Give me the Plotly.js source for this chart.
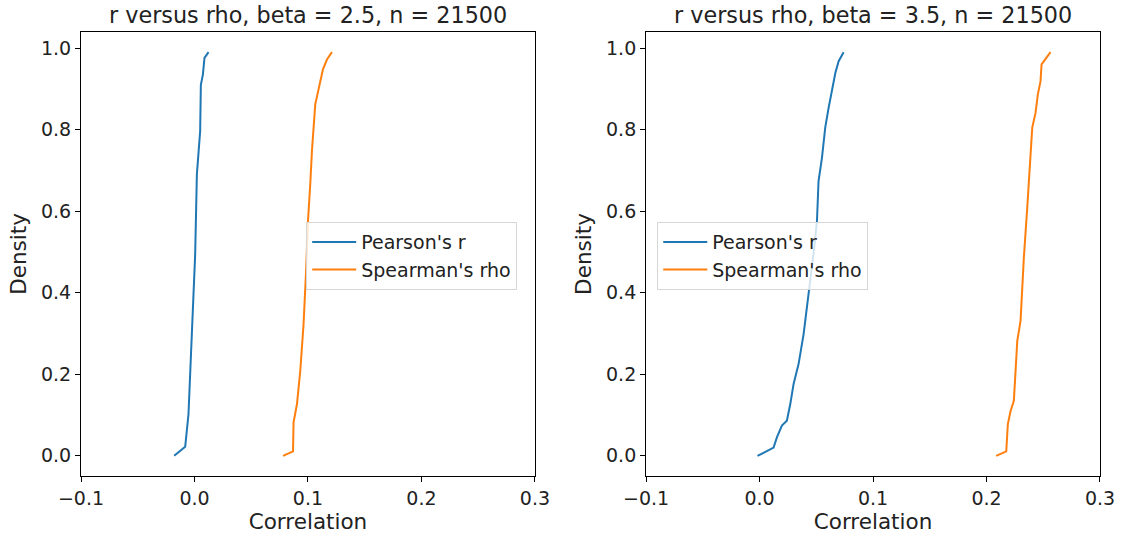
<!DOCTYPE html>
<html>
<head>
<meta charset="utf-8">
<script src="https://cdn.plot.ly/plotly-3.0.1.min.js"></script>
<style>html,body{margin:0;padding:0;background:#fff;}#chart{width:1121px;height:541px;}</style>
</head>
<body>
<div id="chart"></div>
<script>
// Left panel (beta = 2.5)
const pearsonX1 = [-0.0179, -0.0082, -0.0053, -0.0023, 0.0006, 0.0021, 0.005, 0.0056, 0.0074, 0.0088, 0.0124];
const pearsonY1 = [0, 0.022, 0.102, 0.315, 0.494, 0.69, 0.797, 0.91, 0.935, 0.976, 0.99];
const spearmanX1 = [0.078, 0.0868, 0.0873, 0.0903, 0.0932, 0.0961, 0.0982, 0.1, 0.102, 0.1035, 0.1064, 0.1108, 0.1132, 0.1167, 0.1211];
const spearmanY1 = [0, 0.011, 0.082, 0.127, 0.208, 0.323, 0.445, 0.576, 0.666, 0.748, 0.862, 0.919, 0.948, 0.972, 0.99];
// Right panel (beta = 3.5)
const pearsonX2 = [-0.0018, 0.0124, 0.0153, 0.0197, 0.0241, 0.0271, 0.03, 0.0344, 0.0388, 0.0418, 0.0447, 0.0482, 0.0506, 0.052, 0.055, 0.0579, 0.0609, 0.0638, 0.0668, 0.0697, 0.0741];
const pearsonY2 = [0, 0.02, 0.045, 0.074, 0.086, 0.127, 0.176, 0.225, 0.298, 0.363, 0.421, 0.51, 0.576, 0.674, 0.731, 0.805, 0.854, 0.895, 0.939, 0.968, 0.99];
const spearmanX2 = [0.2085, 0.2174, 0.2188, 0.2212, 0.2241, 0.2256, 0.2271, 0.23, 0.2315, 0.2329, 0.2359, 0.2388, 0.2403, 0.2432, 0.2452, 0.2476, 0.2485, 0.2564];
const spearmanY2 = [0, 0.011, 0.078, 0.11, 0.135, 0.216, 0.282, 0.331, 0.413, 0.486, 0.609, 0.731, 0.805, 0.841, 0.886, 0.919, 0.96, 0.99];

const titles = ["r versus rho, beta = 2.5, n = 21500", "r versus rho, beta = 3.5, n = 21500"];
const seriesNames = ["Pearson's r", "Spearman's rho"];
const xTicks = [-0.1, 0.0, 0.1, 0.2, 0.3];
const xTickText = ["\u22120.1", "0.0", "0.1", "0.2", "0.3"];
const yTicks = [0, 0.2, 0.4, 0.6, 0.8, 1.0];
const yTickText = ["0.0", "0.2", "0.4", "0.6", "0.8", "1.0"];

const blue = '#1f77b4', orange = '#ff7f0e';
const font = "DejaVu Sans, sans-serif";

const traces = [
  {x: pearsonX1, y: pearsonY1, name: seriesNames[0], mode: 'lines', line: {color: blue, width: 2}, xaxis: 'x', yaxis: 'y', legend: 'legend', legendgroup: 'a1'},
  {x: spearmanX1, y: spearmanY1, name: seriesNames[1], mode: 'lines', line: {color: orange, width: 2}, xaxis: 'x', yaxis: 'y', legend: 'legend', legendgroup: 'b1'},
  {x: pearsonX2, y: pearsonY2, name: seriesNames[0], mode: 'lines', line: {color: blue, width: 2}, xaxis: 'x2', yaxis: 'y2', legend: 'legend2', legendgroup: 'a2'},
  {x: spearmanX2, y: spearmanY2, name: seriesNames[1], mode: 'lines', line: {color: orange, width: 2}, xaxis: 'x2', yaxis: 'y2', legend: 'legend2', legendgroup: 'b2'}
];

function xax(domain, anchor) {
  return {domain: domain, anchor: anchor, range: [-0.1, 0.3], tickvals: xTicks, ticktext: xTickText,
    showgrid: false, zeroline: false, showline: true, mirror: true, linecolor: '#000', linewidth: 1,
    ticks: 'outside', ticklen: 5, tickcolor: '#000', tickfont: {size: 19, color: '#222', family: font},
    title: {text: 'Correlation', font: {size: 21.5, color: '#222', family: font}, standoff: 5}};
}
function yax(anchor) {
  return {domain: [0, 1], anchor: anchor, range: [-0.0495, 1.0395], tickvals: yTicks, ticktext: yTickText,
    showgrid: false, zeroline: false, showline: true, mirror: true, linecolor: '#000', linewidth: 1,
    ticks: 'outside', ticklen: 5, tickcolor: '#000', tickfont: {size: 19, color: '#222', family: font},
    title: {text: 'Density', font: {size: 21.5, color: '#222', family: font}, standoff: 8}};
}
const legendStyle = {bgcolor: 'rgba(255,255,255,0.8)', bordercolor: '#d6d6d6', borderwidth: 1,
  font: {size: 19, color: '#222', family: font}, xanchor: 'left', yanchor: 'top',
  traceorder: 'grouped', tracegroupgap: 0, itemwidth: 44};

const layout = {
  width: 1121, height: 541,
  margin: {l: 81, r: 21, t: 32, b: 65},
  paper_bgcolor: '#fff', plot_bgcolor: '#fff',
  font: {family: font, color: '#222'},
  xaxis: xax([0, 0.4455], 'y'),
  yaxis: yax('x'),
  xaxis2: xax([0.5545, 1], 'y2'),
  yaxis2: yax('x2'),
  legend: Object.assign({x: 0.221, y: 0.572}, legendStyle),
  legend2: Object.assign({x: 0.5655, y: 0.572}, legendStyle),
  annotations: [
    {text: titles[0], xref: 'paper', yref: 'paper', x: 0.2227, y: 1, yanchor: 'bottom', xanchor: 'center', showarrow: false, yshift: 2, font: {size: 22.3, color: '#222', family: font}},
    {text: titles[1], xref: 'paper', yref: 'paper', x: 0.7772, y: 1, yanchor: 'bottom', xanchor: 'center', showarrow: false, yshift: 2, font: {size: 22.3, color: '#222', family: font}}
  ]
};

Plotly.newPlot('chart', traces, layout, {displayModeBar: false, staticPlot: true});
</script>
</body>
</html>
